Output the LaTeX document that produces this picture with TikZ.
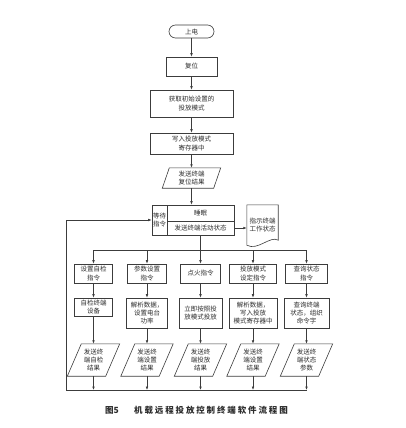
\documentclass[tikz,border=0pt]{standalone}
\usepackage{fontspec}
\newfontfamily\cjk{Noto Sans CJK SC}
\newfontfamily\cjkcap[LetterSpace=22]{Noto Sans CJK SC}
\usetikzlibrary{arrows.meta}
\definecolor{ln}{RGB}{60,60,60}
\definecolor{tx}{RGB}{45,45,45}
\tikzset{
  txt/.style={inner sep=0pt, align=center, text=tx, font=\cjk\fontsize{6.5}{8.3}\selectfont},
  box/.style={draw=ln, line width=0.6pt},
  rbox/.style={txt, box},
  line/.style={draw=ln, line width=0.6pt},
  arr/.style={line, -{Latex[length=3.5pt,width=2.6pt]}},
}
\newcommand\mypara[7]{%
  \node[txt, minimum width=#4pt, minimum height=#5pt] (#1) at (#2,#3) {#7};
  \draw[box] ([xshift=#6pt]#1.north west) -- ([xshift=#6pt]#1.north east)
    -- ([xshift=-#6pt]#1.south east) -- ([xshift=-#6pt]#1.south west) -- cycle;
}
\begin{document}
\begin{tikzpicture}[x=1pt,y=-1pt]
\useasboundingbox[fill=white] (0,0) rectangle (406,428);

% main spine
\node[rbox, rounded corners=6.5pt, minimum width=45pt, minimum height=13pt] (start) at (191.5,31.5) {上电};
\node[rbox, minimum width=51pt, minimum height=19pt] (reset) at (191.5,66.5) {复位};
\node[rbox, minimum width=83pt, minimum height=27pt] (getm) at (191.5,103.5) {获取初始设置的\\投放模式};
\node[rbox, minimum width=83pt, minimum height=21pt] (wrm) at (191.5,143.5) {写入投放模式\\寄存器中};
\mypara{sendr}{191.5}{178}{51}{20}{3.5}{发送终端\\复位结果}

% waiting block
\node[rbox, minimum width=15pt, minimum height=30pt] (wait) at (159.5,220) {等待\\指令};
\node[rbox, minimum width=67pt, minimum height=16pt] (sleep) at (200.5,213) {睡眠};
\node[rbox, minimum width=67pt, minimum height=14pt] (sact) at (200.5,228) {发送终端活动状态};

% document
\node[txt, minimum width=31pt, minimum height=40pt] (doc) at (262.5,225) {指示终端\\工作状态};
\draw[box] (doc.south west) -- (doc.north west) -- (doc.north east) -- ([yshift=5pt]doc.south east)
  .. controls +(-8,-5) and +(11,6) .. (doc.south west);

% row 1
\node[rbox, minimum width=38pt, minimum height=19pt] (a1) at (93.5,273.5) {设置自检\\指令};
\node[rbox, minimum width=39pt, minimum height=19pt] (a2) at (147,273.5) {参数设置\\指令};
\node[rbox, minimum width=40pt, minimum height=19pt] (a3) at (200.5,273.5) {点火指令};
\node[rbox, minimum width=47pt, minimum height=19pt] (a4) at (253,273.5) {投放模式\\设定指令};
\node[rbox, minimum width=42pt, minimum height=19pt] (a5) at (306.5,273.5) {查询状态\\指令};

% row 2
\node[rbox, minimum width=38pt, minimum height=18pt] (b1) at (93.5,307) {自检终端\\设备};
\node[rbox, minimum width=41pt, minimum height=30pt] (b2) at (147,313) {解析数据，\\设置电台\\功率};
\node[rbox, minimum width=43pt, minimum height=30pt] (b3) at (200.5,313) {立即按照投\\放模式投放};
\node[rbox, minimum width=48pt, minimum height=30pt] (b4) at (253,313) {解析数据，\\写入投放\\模式寄存器中};
\node[rbox, minimum width=45pt, minimum height=30pt] (b5) at (306.5,313) {查询终端\\状态，组织\\命令字};

% row 3
\mypara{p1}{93.5}{360}{38}{32}{7}{发送终\\端自检\\结果}
\mypara{p2}{147}{360}{38}{32}{7}{发送终\\端设置\\结果}
\mypara{p3}{200.5}{360}{38}{32}{7}{发送终\\端投放\\结果}
\mypara{p4}{253}{360}{38}{32}{7}{发送终\\端设置\\结果}
\mypara{p5}{306.5}{360}{38}{32}{7}{发送终\\端状态\\参数}

% spine connectors
\draw[arr] (start) -- (reset);
\draw[arr] (reset) -- (getm);
\draw[arr] (getm) -- (wrm);
\draw[arr] (wrm) -- (sendr);
\draw[arr] (sendr.south) -- (sendr.south |- sleep.north);
\draw[arr] (sact.east) -- (sact.east -| doc.west);

% distribution bus
\coordinate (bus) at (0,250);
\draw[line] (sact.south) -- (sact.south |- bus);
\draw[line] (a1.north |- bus) -- (a5.north |- bus);
\foreach \i in {1,...,5} {
  \draw[arr] (a\i.north |- bus) -- (a\i.north);
  \draw[arr] (a\i.south) -- (b\i.north);
  \draw[arr] (b\i.south) -- (p\i.north);
}

% return bus
\coordinate (bot) at (66,390);
\foreach \i in {1,...,5} {
  \draw[arr] (p\i.south) -- (p\i.south |- bot);
}
\draw[arr] (p5.south |- bot) -- (bot) |- (wait.west);

% caption
\node[txt, font=\cjk\bfseries\fontsize{8.5}{10}\selectfont] (cap1) at (112,410) {图5};
\node[txt, font=\cjkcap\bfseries\fontsize{8.5}{10}\selectfont] (cap2) at (211,410) {机载远程投放控制终端软件流程图};
\end{tikzpicture}
\end{document}
